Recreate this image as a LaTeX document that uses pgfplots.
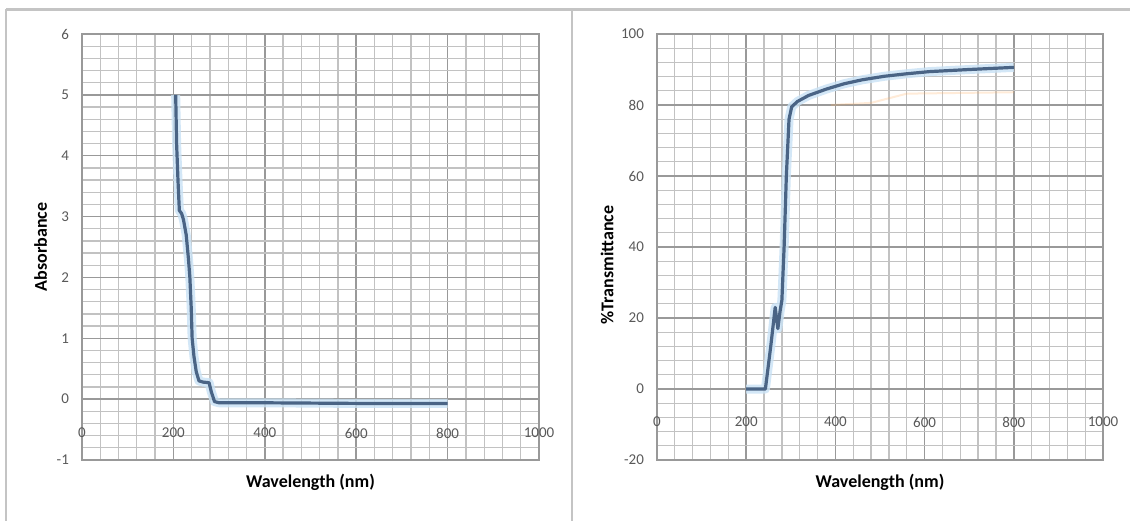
\documentclass[border=0pt]{standalone}
\usepackage{fontspec}
\setmainfont{Carlito}
\usepackage{pgfplots}
\pgfplotsset{compat=1.18}
\definecolor{lineblue}{HTML}{4A6485}
\definecolor{glowblue}{HTML}{C9E2F5}
\definecolor{majgrid}{HTML}{999999}
\definecolor{mingrid}{HTML}{C2C2C2}
\definecolor{ticktext}{HTML}{595959}
\definecolor{panel}{HTML}{C4C4C4}
\pgfplotsset{
  myaxis/.style={
    anchor=north west, scale only axis, height=213pt,
    xmin=0, xmax=1000, xtick={0,200,...,1000},
    minor x tick num=4, minor y tick num=4,
    grid=both,
    major grid style={majgrid, line width=0.75pt},
    minor grid style={mingrid, line width=0.65pt},
    axis line style={majgrid, line width=0.75pt},
    major tick length=0pt, minor tick length=0pt,
    /pgf/number format/assume math mode=true,
    /pgf/number format/1000 sep={},
    tick label style={font=\fontsize{7.5}{8}\selectfont, text=ticktext},
    xticklabel style={anchor=center},
    yticklabel style={anchor=east, xshift=-3pt},
    label style={font=\fontsize{9}{10}\selectfont\bfseries},
    xlabel style={at={(axis description cs:0.5,0)}, anchor=center, yshift=-11pt},
    axis background/.style={fill=white},
  }
}
\pgfplotstableread{
x y
205 5.00
207 4.20
210 3.60
213 3.10
218 3.05
222 2.95
228 2.70
233 2.30
236 2.00
239 1.50
241 1.00
245 0.70
250 0.45
256 0.30
265 0.28
278 0.27
283 0.12
290 -0.04
300 -0.06
400 -0.06
600 -0.07
800 -0.07
}\absdata
\pgfplotstableread{
x y
200 0
243 0
255 12
265 23
271 17
276 22
280 25
285 40
290 60
296 76
302 79.5
315 81
340 82.7
380 84.5
420 86
460 87.1
510 88.1
560 88.8
610 89.4
700 90
800 90.6
}\transdata
\pgfplotstableread{
x y
390 80
480 80.6
560 83.2
800 83.6
}\orangedata
\begin{document}
\begin{tikzpicture}
\path[use as bounding box] (0,0) rectangle (565pt,-260.5pt);
\draw[panel, line width=1.5pt] (3pt,-4.5pt) -- (565pt,-4.5pt);
\draw[panel, line width=1pt] (3pt,-4.5pt) -- (3pt,-260.5pt);
\draw[panel, line width=1pt] (286pt,-4.5pt) -- (286pt,-260.5pt);
\begin{axis}[myaxis, at={(41pt,-17pt)}, width=228.5pt,
  ymin=-1, ymax=6, ytick={-1,0,...,6},
  xticklabel style={yshift=13.5pt},
  xlabel={Wavelength (nm)}, ylabel={Absorbance}, ylabel shift=-2pt]
\addplot[glowblue, line width=4.5pt, line join=round, opacity=0.8] table[x=x,y=y] {\absdata};
\addplot[lineblue, line width=1.6pt, line join=round] table[x=x,y=y] {\absdata};
\end{axis}
\begin{axis}[myaxis, at={(328.5pt,-17pt)}, width=223pt,
  ymin=-20, ymax=100, ytick={-20,0,...,100},
  xticklabel style={yshift=19pt},
  xlabel={Wavelength (nm)}, ylabel={\%Transmittance}, ylabel shift=-3pt,
  ylabel style={xshift=-9pt}]
\addplot[orange!60, line width=1pt, opacity=0.25] table[x=x,y=y] {\orangedata};
\addplot[glowblue, line width=4.5pt, line join=round, opacity=0.8] table[x=x,y=y] {\transdata};
\addplot[lineblue, line width=1.6pt, line join=round] table[x=x,y=y] {\transdata};
\end{axis}
\end{tikzpicture}
\end{document}
